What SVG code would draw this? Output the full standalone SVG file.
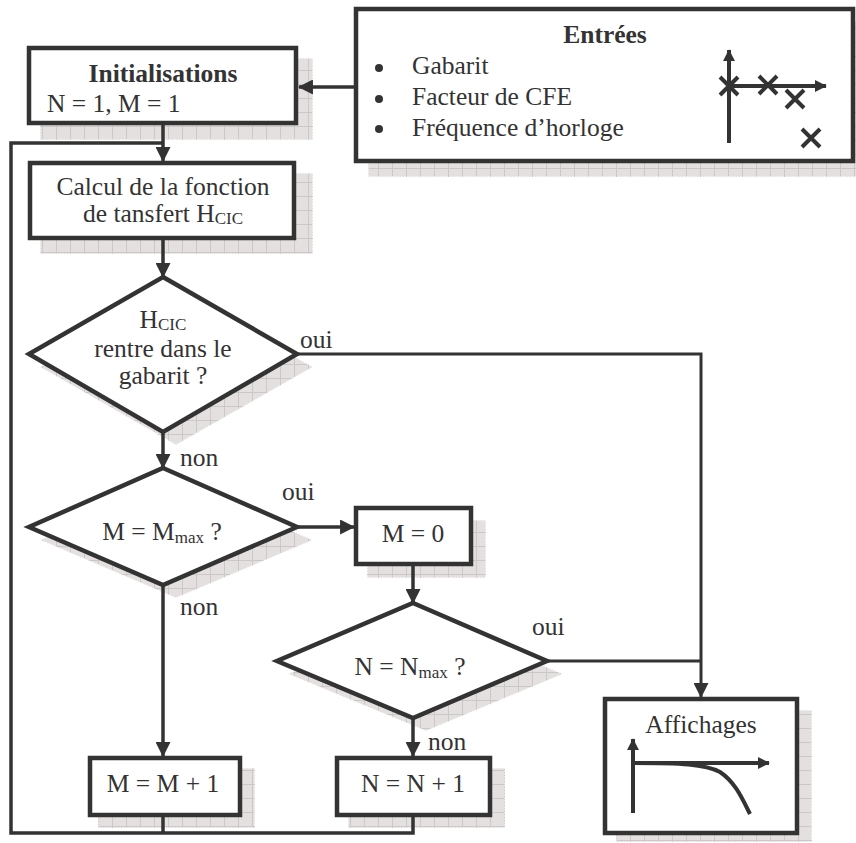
<svg xmlns="http://www.w3.org/2000/svg" width="856" height="843" viewBox="0 0 856 843">
<defs>
<pattern id="grid" patternUnits="userSpaceOnUse" width="14" height="14">
<rect width="14" height="14" fill="#e4e0e0"/>
<path d="M0 0.5H14M0.5 0V14" stroke="#cdc8c8" stroke-width="1" fill="none"/>
</pattern>
<marker id="ah" viewBox="0 0 14 14" refX="13" refY="7" markerWidth="15" markerHeight="15" markerUnits="userSpaceOnUse" orient="auto">
<path d="M0 0L14 7L0 14Z" fill="#333"/>
</marker>
<marker id="ahs" viewBox="0 0 14 14" refX="13" refY="7" markerWidth="12" markerHeight="12" markerUnits="userSpaceOnUse" orient="auto">
<path d="M0 0L14 7L0 14Z" fill="#333"/>
</marker>
</defs>
<style>
.sh{fill:url(#grid);stroke:#fff;stroke-width:1;stroke-dasharray:2 1}
.bx{fill:#fff;stroke:#333;stroke-width:4.5}
.t{font-family:"Liberation Serif","Times New Roman",serif;font-size:25.5px;fill:#333}
.b{font-weight:bold}
.m{text-anchor:middle}
.sub{font-size:17px}
.c{fill:none;stroke:#333;stroke-width:3.5}
.ic{fill:none;stroke:#333;stroke-width:4}
</style>

<g id="init">
<rect class="sh" x="40" y="58" width="273" height="82"/>
<rect class="bx" x="29" y="48" width="267" height="75"/>
<text class="t b m" x="163" y="82">Initialisations</text>
<text class="t" x="47" y="112">N = 1, M = 1</text>
</g>

<g id="entrees">
<rect class="sh" x="368" y="21" width="490" height="156"/>
<rect class="bx" x="356" y="9" width="497" height="152"/>
<text class="t b m" x="605" y="43">Entrées</text>
<circle cx="379" cy="68" r="4" fill="#333"/>
<circle cx="379" cy="99" r="4" fill="#333"/>
<circle cx="379" cy="129" r="4" fill="#333"/>
<text class="t" x="412" y="74">Gabarit</text>
<text class="t" x="412" y="105">Facteur de CFE</text>
<text class="t" x="412" y="136">Fréquence d’horloge</text>
<line class="ic" x1="729" y1="143" x2="729" y2="50" marker-end="url(#ahs)"/>
<line class="ic" x1="729" y1="86" x2="826" y2="86" marker-end="url(#ahs)"/>
<path class="ic" d="M720 77L738 95M738 77L720 95M759 76L777 94M777 76L759 94M786 90L804 108M804 90L786 108M802 129L820 147M820 129L802 147"/>
</g>

<g id="calcul">
<rect class="sh" x="40" y="173" width="273" height="81"/>
<rect class="bx" x="30" y="163" width="264" height="75"/>
<text class="t m" x="163" y="195">Calcul de la fonction</text>
<text class="t m" x="163" y="222">de tansfert H<tspan class="sub" dy="2">CIC</tspan></text>
</g>

<g id="test-gabarit">
<polygon class="sh" points="176,290 313,367 176,445 40,367"/>
<polygon class="bx" points="163,277 297,354 163,432 29,354"/>
<text class="t m" x="163" y="328">H<tspan class="sub" dy="2">CIC</tspan></text>
<text class="t m" x="163" y="357">rentre dans le</text>
<text class="t m" x="163" y="384">gabarit ?</text>
</g>

<g id="test-m">
<polygon class="sh" points="176,481 313,540 176,598 40,540"/>
<polygon class="bx" points="163,468 297,527 163,585 29,527"/>
<text class="t m" x="162" y="540">M = M<tspan class="sub" dy="3">max</tspan><tspan dy="-3"> ?</tspan></text>
</g>

<g id="m0">
<rect class="sh" x="367" y="520" width="119" height="58"/>
<rect class="bx" x="356" y="508" width="115" height="56"/>
<text class="t m" x="413" y="542">M = 0</text>
</g>

<g id="test-n">
<polygon class="sh" points="426,616 563,674 426,731 288,674"/>
<polygon class="bx" points="413,603 547,661 413,718 277,661"/>
<text class="t m" x="410" y="675">N = N<tspan class="sub" dy="3">max</tspan><tspan dy="-3"> ?</tspan></text>
</g>

<g id="m-inc">
<rect class="sh" x="98" y="768" width="157" height="60"/>
<rect class="bx" x="90" y="758" width="150" height="57"/>
<text class="t m" x="163" y="792">M = M + 1</text>
</g>

<g id="n-inc">
<rect class="sh" x="348" y="768" width="157" height="60"/>
<rect class="bx" x="337" y="758" width="153" height="57"/>
<text class="t m" x="413" y="792">N = N + 1</text>
</g>

<g id="affichages">
<rect class="sh" x="616" y="710" width="196" height="132"/>
<rect class="bx" x="605" y="699" width="192" height="134"/>
<text class="t m" x="701" y="733">Affichages</text>
<line class="ic" x1="633" y1="813" x2="633" y2="739" marker-end="url(#ahs)"/>
<line class="ic" x1="633" y1="763" x2="769" y2="763" marker-end="url(#ahs)"/>
<path class="ic" d="M633 763C680 763 705 764 720 772C735 782 742 798 750 814"/>
</g>

<g id="connectors">
<line class="c" x1="354" y1="87" x2="299" y2="87" marker-end="url(#ah)"/>
<line class="c" x1="163" y1="125" x2="163" y2="161" marker-end="url(#ah)"/>
<polyline class="c" points="163,833 163,817"/>
<polyline class="c" points="413,817 413,833 11,833 11,143 163,143"/>
<line class="c" x1="163" y1="240" x2="163" y2="277" marker-end="url(#ah)"/>
<line class="c" x1="163" y1="432" x2="163" y2="468" marker-end="url(#ah)"/>
<line class="c" x1="163" y1="585" x2="163" y2="756" marker-end="url(#ah)"/>
<line class="c" x1="297" y1="527" x2="354" y2="527" marker-end="url(#ah)"/>
<line class="c" x1="413" y1="566" x2="413" y2="603" marker-end="url(#ah)"/>
<line class="c" x1="413" y1="718" x2="413" y2="756" marker-end="url(#ah)"/>
<polyline class="c" style="stroke-width:3" points="297,354 701,354 701,697" marker-end="url(#ah)"/>
<line class="c" style="stroke-width:3" x1="547" y1="661" x2="701" y2="661"/>
<text class="t" x="300" y="348">oui</text>
<text class="t" x="180" y="466">non</text>
<text class="t" x="282" y="500">oui</text>
<text class="t" x="180" y="615">non</text>
<text class="t" x="532" y="635">oui</text>
<text class="t" x="428" y="750">non</text>
</g>
</svg>
